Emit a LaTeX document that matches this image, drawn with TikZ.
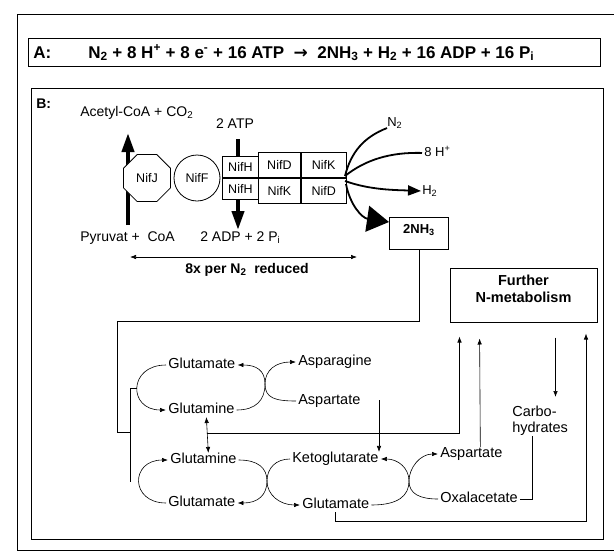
\documentclass[tikz,border=0pt]{standalone}
\usepackage{fontspec}
\setmainfont{Liberation Sans}
\newfontfamily\arrowfont{DejaVu Sans}
\usetikzlibrary{arrows.meta,positioning,shapes.geometric}

\begin{document}
\begin{tikzpicture}[x=1pt,y=-1pt,semithick,>={Latex[length=6pt,width=4.5pt]},
    every node/.style={inner sep=0pt,font=\fontsize{14}{16}\selectfont}]
    \tikzset{frame/.style={draw=black,line width=1pt}};
    \tikzset{lbl/.style={anchor=west,text height=1.5ex,text depth=.3ex}};
    \tikzset{met/.style={lbl,inner sep=2pt,font=\fontsize{14.5}{17}\selectfont}};
    \tikzset{nif/.style={draw=black,line width=.8pt,fill=white,minimum width=36pt,minimum height=21pt,font=\fontsize{12.5}{14}\selectfont}};
    \tikzset{disc/.style={draw=black,line width=.8pt,fill=white,font=\fontsize{12.5}{14}\selectfont}};
    \tikzset{bigarr/.style={line width=4pt,-{Triangle[length=19pt,width=12pt]}}};
    \tikzset{fan/.style={line width=1.8pt}};
    \tikzset{hd/.style={anchor=west,font=\bfseries\fontsize{17}{19}\selectfont}};
    \useasboundingbox (0,0) rectangle (614,555);
    % frames
    \draw[frame] (614,14) -- (17,14) -- (17,550) -- (614,550);
    \draw[frame] (28,38) rectangle (600,66);
    \draw[frame] (31,88) rectangle (603,539);
    % part A
    \node[hd] (labA) at (33,53) {A:};
    \node[hd] (eqA) at (88,53) {N\textsubscript{2} + 8 H\textsuperscript{+} + 8 e\textsuperscript{-} + 16 ATP \ {\arrowfont →} \ 2NH\textsubscript{3} + H\textsubscript{2} + 16 ADP + 16 P\textsubscript{i}};
    % part B, nitrogenase
    \node[anchor=west,font=\bfseries\fontsize{14}{16}\selectfont] (labB) at (36,104) {B:};
    \node[lbl] (acoa) at (80,113) {Acetyl-CoA + CO\textsubscript{2}};
    \node[lbl,anchor=center] (atp) at (235,125) {2 ATP};
    \node[lbl] (pyr) at (80,238) {Pyruvat +\ \ CoA};
    \node[lbl] (adp) at (200,238) {2 ADP + 2 P\textsubscript{i}};
    \coordinate (jbot) at (128,225);
    \coordinate (jtop) at (128,133);
    \coordinate (atpin) at (238,139);
    \coordinate (adpout) at (238,230);
    \draw[bigarr] (jbot) -- (jtop);
    \draw[bigarr] (atpin) -- (adpout);
    \node[disc,regular polygon,regular polygon sides=8,minimum width=51pt,minimum height=51pt] (nifJ) at (147,178) {NifJ};
    \node[disc,circle,minimum width=46pt,minimum height=46pt] (nifF) at (197,178) {NifF};
    \node[nif,anchor=south west] (nifH1) at (222,178) {NifH};
    \node[nif,below=0pt of nifH1] (nifH2) {NifH};
    \node[nif,minimum width=42pt,minimum height=25pt,anchor=south west] (nifD1) at (258,178) {NifD};
    \node[nif,minimum width=45pt,minimum height=25pt,right=0pt of nifD1] (nifK1) {NifK};
    \node[nif,minimum width=42pt,minimum height=25pt,below=0pt of nifD1] (nifK2) {NifK};
    \node[nif,minimum width=45pt,minimum height=25pt,below=0pt of nifK1] (nifD2) {NifD};
    % substrates and products
    \coordinate (hub) at (345,176);
    \coordinate (hub2) at (345,181);
    \coordinate (hub3) at (346,184);
    \node[lbl,font=\fontsize{13}{15}\selectfont] (n2) at (387,123) {N\textsubscript{2}};
    \node[lbl,font=\fontsize{13}{15}\selectfont] (hp) at (424,153) {8 H\textsuperscript{+}};
    \node[lbl,font=\fontsize{13}{15}\selectfont] (h2) at (422,191) {H\textsubscript{2}};
    \node[draw,line width=1pt,anchor=north west,minimum width=59pt,minimum height=32pt,text depth=10pt,font=\bfseries\fontsize{13}{15}\selectfont] (nh3) at (389,217) {2NH\textsubscript{3}};
    \draw[fan] (hub) .. controls (351,152) and (364,137) .. (n2.south west);
    \draw[fan,shorten >=2pt] (hub) .. controls (365,160) and (390,152) .. (hp.west);
    \draw[fan,-{Triangle[length=13pt,width=10pt]},shorten >=1pt] (hub2) .. controls (370,190) and (395,190) .. (h2.west);
    \draw[fan,-{Triangle[length=22pt,width=26pt]}] (hub3) .. controls (350,205) and (362,218) .. ([yshift=-5pt]nh3.north west);
    \coordinate (cycL) at (130,257);
    \coordinate (cycR) at (357,257);
    \draw[<->] (cycL) -- (cycR);
    \node[font=\bfseries\fontsize{14}{16}\selectfont] (cyc) at (247,270) {8x per N\textsubscript{2}\ \ reduced};
    % further metabolism
    \node[frame,minimum width=147pt,minimum height=54pt] (furth) at (523.5,295) {};
    \node[align=center,font=\bfseries\fontsize{14.5}{17}\selectfont] (furthtxt) at (523.5,289) {Further\\N-metabolism};
    \node[align=left,anchor=north west,font=\fontsize{14.5}{16}\selectfont] (carb) at (512,406) {Carbo-\\hydrates};
    % GS / AS cycle
    \node[met] (gluA) at (166,365) {Glutamate};
    \node[met] (glnA) at (166,410) {Glutamine};
    \node[met] (asnA) at (296,362) {Asparagine};
    \node[met] (aspA) at (296,401) {Aspartate};
    % GS / GOGAT / AAT cycle
    \node[met] (glnB) at (168,460) {Glutamine};
    \node[met] (gluB) at (166,503) {Glutamate};
    \node[met] (kgB) at (290,459) {Ketoglutarate};
    \node[met] (gluC) at (300,505) {Glutamate};
    \node[met] (aspB) at (438,454) {Aspartate};
    \node[met] (oxaB) at (438,499) {Oxalacetate};
    \coordinate (XA) at (265,384);
    \coordinate (XB) at (267,481);
    \coordinate (XC) at (409,481);
    \draw[->] (gluA.west) .. controls (128,365) and (128,410) .. (glnA.west);
    \draw[->] (glnA.east) .. controls (256,410) and (265,400) .. (XA) .. controls (265,370) and (256,365) .. (gluA.east);
    \draw[->] (aspA.west) .. controls (275,401) and (265,398) .. (XA) .. controls (265,370) and (276,362) .. (asnA.west);
    \draw[->] (gluB.west) .. controls (130,503) and (130,460) .. (glnB.west);
    \draw[->] (glnB.east) .. controls (258,460) and (267,468) .. (XB) .. controls (267,495) and (258,503) .. (gluB.east);
    \draw[->] (kgB.west) .. controls (276,459) and (267,468) .. (XB) .. controls (267,495) and (280,505) .. (gluC.west);
    \draw[->] (gluC.east) .. controls (398,505) and (409,496) .. (XC) .. controls (409,468) and (398,459) .. (kgB.east);
    \draw[->] (oxaB.west) .. controls (420,499) and (409,494) .. (XC) .. controls (409,468) and (420,454) .. (aspB.west);
    % connections
    \coordinate (nhturn) at (117,321);
    \coordinate (nhfoot) at (130,432);
    \coordinate (gsA) at (137,388);
    \coordinate (gsB) at (130,482);
    \draw (nh3.south) |- (nhturn) |- (nhfoot);
    \draw (gsA) -| (gsB);
    \coordinate (glnjoin) at (207,433);
    \coordinate (carbin) at ([xshift=106pt]furth.south west);
    \coordinate (gluturn) at (586,521);
    \coordinate (aspout) at (379,400);
    \draw[<->] ([xshift=5pt]glnA.south) -- ([xshift=5pt]glnB.north);
    \draw[->,shorten >=14pt] (glnjoin) -| ([xshift=10pt]furth.south west);
    \draw[->,shorten >=16pt] ([xshift=9pt]aspB.north) -- ([xshift=30pt]furth.south west);
    \draw[->,shorten <=15pt,shorten >=9pt] (carbin) -- (carbin |- carb.north);
    \draw[->,shorten >=11pt] (gluC.south) |- (gluturn) -- (gluturn |- furth.south);
    \draw (oxaB.east) -| ([xshift=20pt]carb.south west);
    \draw[->] (aspout) -- (aspout |- kgB.north);
\end{tikzpicture}
\end{document}
